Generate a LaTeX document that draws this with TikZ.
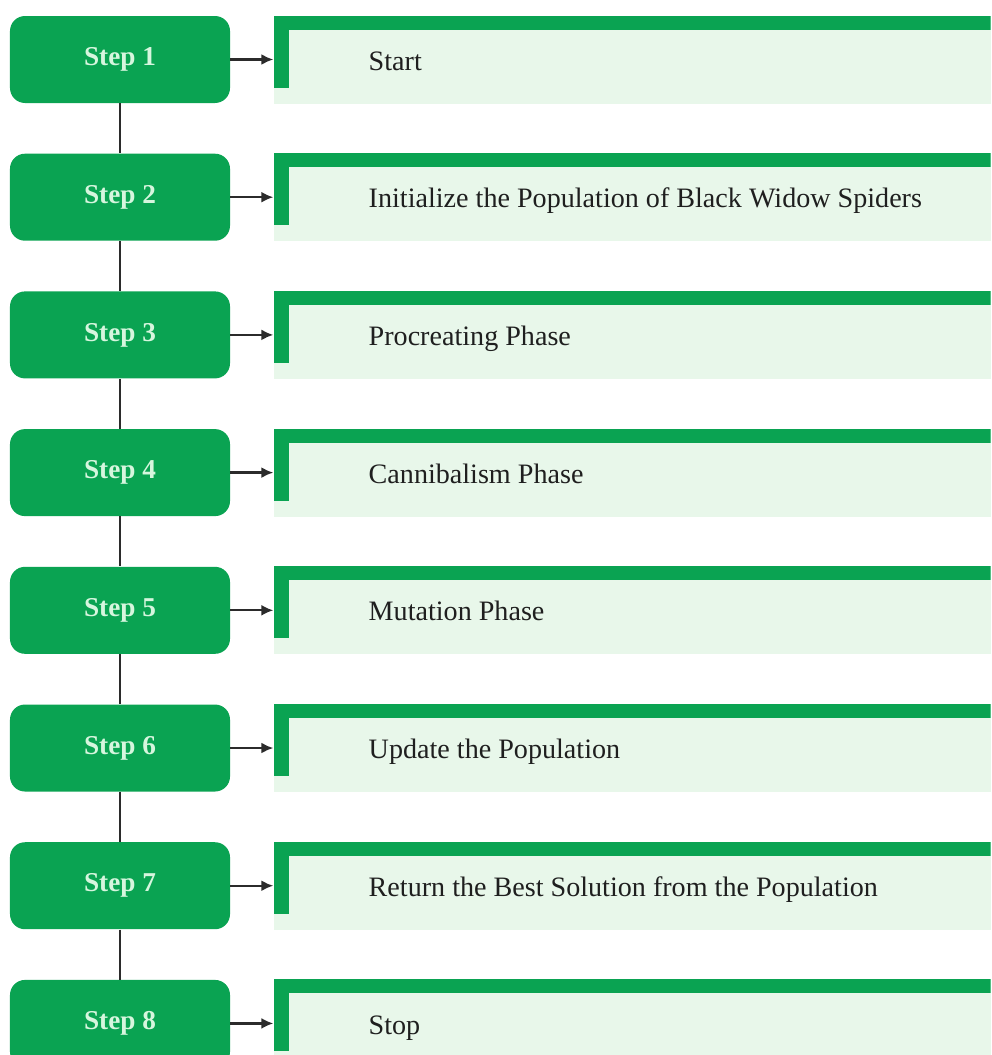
\documentclass[tikz,border=0pt]{standalone}
\usepackage{fontspec}
\setmainfont{Liberation Serif}
\usepackage{tikz}
\usetikzlibrary{positioning, arrows.meta}

\definecolor{stepgreen}{HTML}{0AA352}
\definecolor{steptext}{HTML}{D6F6DE}
\definecolor{panelfill}{HTML}{E8F7EA}
\definecolor{linegray}{HTML}{2B2B2B}

\begin{document}
\begin{tikzpicture}[stepbox/.style = {fill=stepgreen, rounded corners=0.3cm, minimum width=4.4cm, minimum height=1.74cm, inner sep=0pt, font=\fontsize{15.5}{18}\selectfont\bfseries, text=steptext},
    panel/.style = {fill=panelfill, minimum width=14.34cm, minimum height=1.76cm, inner sep=0pt,
        path picture={\fill[stepgreen] (path picture bounding box.north west) rectangle ([yshift=-0.28cm]path picture bounding box.north east);
                      \fill[stepgreen] (path picture bounding box.north west) rectangle ([xshift=0.3cm, yshift=-1.44cm]path picture bounding box.north west);}},
    txt/.style = {inner sep=0pt, anchor=west, font=\fontsize{16}{19}\selectfont, text=black!88},
    arr/.style = {-{Latex[length=2.4mm, width=2.2mm]}, line width=1.3pt, draw=linegray},
    conn/.style = {line width=1.1pt, draw=linegray},
    node distance={1.0cm}]
    \useasboundingbox (0,0) rectangle (19.84,-21.1);
    \clip (0,0) rectangle (19.84,-21.1);
        \node[stepbox] (s1) at (2.4,-1.19) {Step 1};
        \node[stepbox] (s2) [below=of s1] {Step 2};
        \node[stepbox] (s3) [below=of s2] {Step 3};
        \node[stepbox] (s4) [below=of s3] {Step 4};
        \node[stepbox] (s5) [below=of s4] {Step 5};
        \node[stepbox] (s6) [below=of s5] {Step 6};
        \node[stepbox] (s7) [below=of s6] {Step 7};
        \node[stepbox] (s8) [below=of s7] {Step 8};
        \node[panel] (p1) [right=0.86cm of s1] {};
        \node[panel] (p2) [right=0.86cm of s2] {};
        \node[panel] (p3) [right=0.86cm of s3] {};
        \node[panel] (p4) [right=0.86cm of s4] {};
        \node[panel] (p5) [right=0.86cm of s5] {};
        \node[panel] (p6) [right=0.86cm of s6] {};
        \node[panel] (p7) [right=0.86cm of s7] {};
        \node[panel] (p8) [right=0.86cm of s8] {};
        \node[txt] (t1) [right=1.9cm of p1.west, yshift=-0.08cm] {Start\strut};
        \node[txt] (t2) [right=1.9cm of p2.west, yshift=-0.08cm] {Initialize the Population of Black Widow Spiders\strut};
        \node[txt] (t3) [right=1.9cm of p3.west, yshift=-0.08cm] {Procreating Phase\strut};
        \node[txt] (t4) [right=1.9cm of p4.west, yshift=-0.08cm] {Cannibalism Phase\strut};
        \node[txt] (t5) [right=1.9cm of p5.west, yshift=-0.08cm] {Mutation Phase\strut};
        \node[txt] (t6) [right=1.9cm of p6.west, yshift=-0.08cm] {Update the Population\strut};
        \node[txt] (t7) [right=1.9cm of p7.west, yshift=-0.08cm] {Return the Best Solution from the Population\strut};
        \node[txt] (t8) [right=1.9cm of p8.west, yshift=-0.08cm] {Stop\strut};
        \draw[arr] (s1) -- (p1);
        \draw[arr] (s2) -- (p2);
        \draw[arr] (s3) -- (p3);
        \draw[arr] (s4) -- (p4);
        \draw[arr] (s5) -- (p5);
        \draw[arr] (s6) -- (p6);
        \draw[arr] (s7) -- (p7);
        \draw[arr] (s8) -- (p8);
        \draw[conn] (s1) -- (s2);
        \draw[conn] (s2) -- (s3);
        \draw[conn] (s3) -- (s4);
        \draw[conn] (s4) -- (s5);
        \draw[conn] (s5) -- (s6);
        \draw[conn] (s6) -- (s7);
        \draw[conn] (s7) -- (s8);
    \end{tikzpicture}
\end{document}
